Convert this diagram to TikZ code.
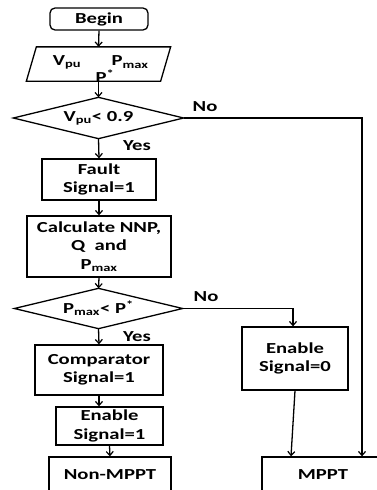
\documentclass[tikz,border=0pt]{standalone}
\usepackage{fontspec}
\setmainfont[FakeStretch=1.35]{Carlito}
\usetikzlibrary{arrows.meta,calc}
\begin{document}
\begin{tikzpicture}[x=1pt,y=-1pt,
  font=\fontsize{15.3}{18.5}\selectfont\bfseries,
  line width=1.3pt,
  box/.style={draw, rectangle, inner sep=0pt, align=center},
  plain/.style={inner sep=0pt},
  arr/.style={-{Straight Barb[length=4pt,width=7pt,line width=1.2pt]}}]
\useasboundingbox (0,0) rectangle (377,490);
\clip (0,0) rectangle (377,490);

% nodes
\node[box, rounded corners=5pt, minimum width=98pt, minimum height=22pt] (begin) at (99,19) {Begin};
\node[plain, minimum width=143pt, minimum height=33pt] (input) at (98.5,64) {};
\draw (input.south west) -- ($(input.south east)+(-10,0)$) -- (input.north east) -- ($(input.north west)+(10,0)$) -- cycle;
\node[plain] (vpu) at (67,62) {V\textsubscript{pu}};
\node[plain] (pmax) at (130,62) {P\textsubscript{max}};
\node[plain] (pstar) at (105,76) {P\textsuperscript{*}};

\node[plain, minimum width=169pt, minimum height=40pt] (d1) at (98.5,118) {V\textsubscript{pu}< 0.9};
\draw (d1.north) -- (d1.east) -- (d1.south) -- (d1.west) -- cycle;

\node[box, minimum width=114pt, minimum height=41pt] (fault) at (99,179.5) {Fault\\Signal=1};
\node[box, minimum width=144pt, minimum height=61pt] (calc) at (99,246.5) {Calculate NNP,\\Q\ \ and\\P\textsubscript{max}};

\node[plain, minimum width=167pt, minimum height=39pt] (d2) at (98.5,308.5) {P\textsubscript{max}< P\textsuperscript{*}};
\draw (d2.north) -- (d2.east) -- (d2.south) -- (d2.west) -- cycle;

\node[box, minimum width=128pt, minimum height=50pt] (comp) at (99,370) {Comparator\\Signal=1};
\node[box, minimum width=107pt, minimum height=38pt] (en1) at (109.5,426) {Enable\\Signal=1};
\node[box, minimum width=122pt, minimum height=36pt] (nonmppt) at (110,475) {Non-MPPT};

\node[box, minimum width=106pt, minimum height=63pt] (en0) at (295,358.5) {Enable\\Signal=0};
\node[box, minimum width=122pt, minimum height=36pt] (mppt) at (323,475) {MPPT};

% labels
\node[plain] (no1) at (205,107) {No};
\node[plain] (yes1) at (137,146) {Yes};
\node[plain] (no2) at (206,297) {No};
\node[plain] (yes2) at (137,337) {Yes};

% connectors
\draw[arr] (begin.south) -- (input.north);
\draw[arr] (input.south) -- (d1.north);
\draw[arr] (d1.south) -- (fault.north);
\draw[arr] (fault.south) -- (calc.north);
\draw[arr] (calc.south) -- (d2.north);
\draw[arr] (d2.south) -- (comp.north);
\draw[arr] (comp.south) -- (comp.south |- en1.north);
\draw[arr] (en1.south) -- (nonmppt.north);

\coordinate (c2) at (293,308.5);
\draw[arr] (d2.east) -- (c2) -- (c2 |- en0.north);

\coordinate (c1) at (362,118);
\draw[arr] (d1.east) -- (c1) -- (c1 |- mppt.north);

\coordinate (m1) at ($(mppt.north)+(-32,0)$);
\draw[arr] (en0.south) -- (m1);
\end{tikzpicture}
\end{document}
